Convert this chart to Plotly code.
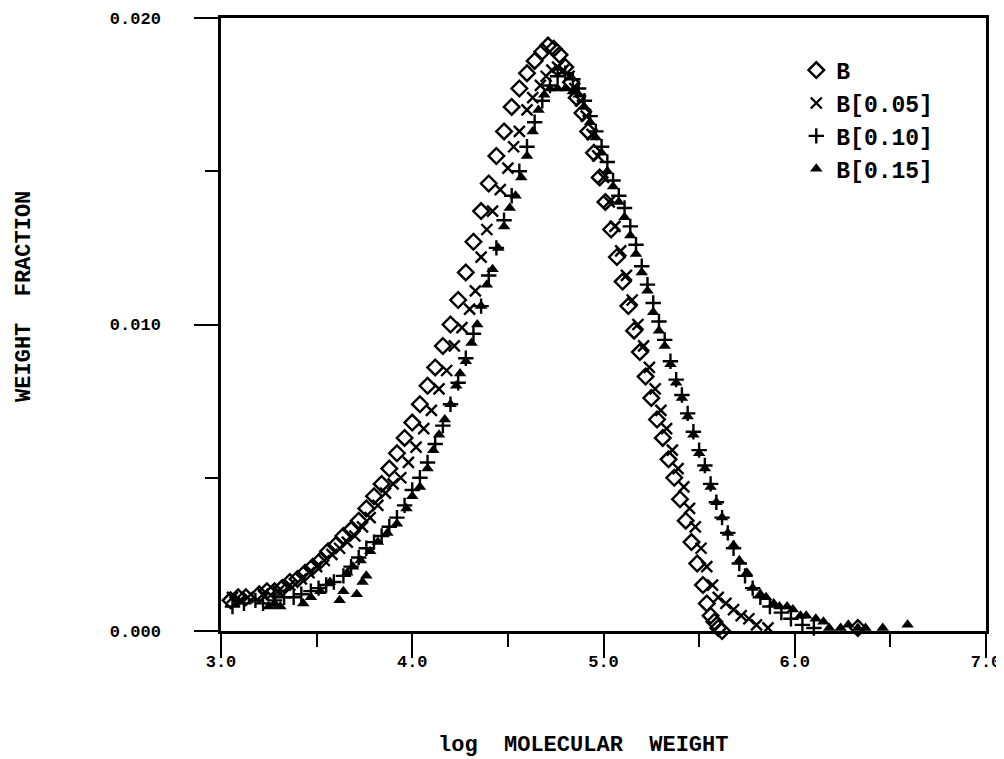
import plotly.graph_objects as go

# ---- data ----
b_x = [3.05, 3.09, 3.13, 3.20, 3.24, 3.28, 3.32, 3.36, 3.40, 3.44, 3.48, 3.52, 3.56, 3.60, 3.64,
       3.68, 3.72, 3.76, 3.80, 3.84, 3.88, 3.92, 3.96, 4.00, 4.04, 4.08, 4.12, 4.16, 4.20, 4.24,
       4.28, 4.32, 4.36, 4.40, 4.44, 4.48, 4.52, 4.56, 4.60, 4.64, 4.68, 4.71, 4.74, 4.77, 4.80,
       4.83, 4.86, 4.89, 4.92, 4.95, 4.98, 5.01, 5.04, 5.07, 5.10, 5.13, 5.16, 5.19, 5.22, 5.25,
       5.28, 5.31, 5.34, 5.37, 5.40, 5.43, 5.46, 5.49, 5.52, 5.54, 5.56, 5.58, 5.60, 5.62, 6.33]
b_y = [0.0010, 0.0011, 0.0011, 0.0012, 0.0013, 0.0013, 0.0014, 0.0016, 0.0017, 0.0019, 0.0021,
       0.0023, 0.0026, 0.0028, 0.0031, 0.0033, 0.0036, 0.0040, 0.0044, 0.0048, 0.0053, 0.0058,
       0.0063, 0.0068, 0.0074, 0.0080, 0.0086, 0.0093, 0.0100, 0.0108, 0.0117, 0.0127, 0.0137,
       0.0146, 0.0155, 0.0163, 0.0171, 0.0177, 0.0182, 0.0186, 0.0189, 0.0191, 0.0190, 0.0188,
       0.0184, 0.0179, 0.0174, 0.0169, 0.0163, 0.0156, 0.0148, 0.0140, 0.0131, 0.0122, 0.0114,
       0.0106, 0.0098, 0.0091, 0.0083, 0.0076, 0.0069, 0.0063, 0.0056, 0.0050, 0.0043, 0.0036,
       0.0029, 0.0022, 0.0015, 0.0009, 0.0005, 0.0003, 0.0001, 0.0000, 0.0001]

b05_x = [3.06, 3.10, 3.14, 3.22, 3.30, 3.36, 3.42, 3.46, 3.50, 3.54, 3.58, 3.62, 3.66, 3.70, 3.74,
         3.78, 3.82, 3.86, 3.90, 3.94, 3.98, 4.02, 4.06, 4.10, 4.14, 4.18, 4.22, 4.26, 4.30, 4.33,
         4.36, 4.39, 4.42, 4.46, 4.50, 4.53, 4.56, 4.60, 4.63, 4.67, 4.70, 4.73, 4.76, 4.79, 4.82,
         4.85, 4.88, 4.91, 4.94, 4.97, 5.00, 5.03, 5.06, 5.09, 5.12, 5.15, 5.18, 5.21, 5.24, 5.27,
         5.30, 5.33, 5.36, 5.39, 5.42, 5.45, 5.48, 5.51, 5.54, 5.57, 5.60, 5.64, 5.68, 5.72, 5.76,
         5.80, 5.86]
b05_y = [0.0011, 0.0010, 0.0011, 0.0012, 0.0013, 0.0015, 0.0017, 0.0019, 0.0021, 0.0023, 0.0025,
         0.0027, 0.0029, 0.0031, 0.0034, 0.0037, 0.0041, 0.0045, 0.0048, 0.0050, 0.0055, 0.0060,
         0.0066, 0.0072, 0.0079, 0.0085, 0.0093, 0.0099, 0.0105, 0.0111, 0.0122, 0.0131, 0.0137,
         0.0144, 0.0151, 0.0158, 0.0163, 0.0170, 0.0174, 0.0178, 0.0181, 0.0183, 0.0184, 0.0183,
         0.0181, 0.0177, 0.0173, 0.0168, 0.0162, 0.0155, 0.0148, 0.0140, 0.0132, 0.0124, 0.0116,
         0.0108, 0.0100, 0.0093, 0.0086, 0.0079, 0.0072, 0.0066, 0.0059, 0.0053, 0.0047, 0.0040,
         0.0034, 0.0027, 0.0021, 0.0015, 0.0011, 0.0009, 0.0007, 0.0005, 0.0004, 0.0002, 0.0001]

b10_x = [3.06, 3.12, 3.18, 3.22, 3.28, 3.33, 3.38, 3.42, 3.47, 3.51, 3.55, 3.59, 3.64, 3.68, 3.72,
         3.76, 3.80, 3.84, 3.88, 3.92, 3.96, 4.00, 4.04, 4.08, 4.12, 4.16, 4.20, 4.24, 4.28, 4.32,
         4.36, 4.40, 4.44, 4.48, 4.52, 4.56, 4.60, 4.64, 4.68, 4.72, 4.76, 4.80, 4.84, 4.87, 4.90,
         4.93, 4.96, 4.99, 5.02, 5.05, 5.08, 5.11, 5.14, 5.17, 5.20, 5.23, 5.26, 5.29, 5.32, 5.35,
         5.38, 5.41, 5.44, 5.47, 5.50, 5.53, 5.56, 5.59, 5.62, 5.65, 5.68, 5.71, 5.74, 5.78, 5.82,
         5.87, 5.93, 5.98, 6.04, 6.10]
b10_y = [0.0008, 0.0009, 0.0010, 0.0009, 0.0010, 0.0011, 0.0011, 0.0012, 0.0013, 0.0014, 0.0015,
         0.0016, 0.0018, 0.0021, 0.0024, 0.0027, 0.0029, 0.0031, 0.0034, 0.0037, 0.0041, 0.0046,
         0.0050, 0.0055, 0.0061, 0.0067, 0.0074, 0.0081, 0.0089, 0.0097, 0.0106, 0.0116, 0.0125,
         0.0134, 0.0142, 0.0150, 0.0158, 0.0166, 0.0173, 0.0178, 0.0181, 0.0182, 0.0180, 0.0177,
         0.0173, 0.0168, 0.0163, 0.0158, 0.0153, 0.0147, 0.0142, 0.0138, 0.0132, 0.0126, 0.0119,
         0.0113, 0.0107, 0.0101, 0.0095, 0.0088, 0.0082, 0.0077, 0.0071, 0.0065, 0.0059, 0.0054,
         0.0048, 0.0042, 0.0037, 0.0032, 0.0027, 0.0022, 0.0018, 0.0014, 0.0011, 0.0008, 0.0006,
         0.0004, 0.0002, 0.0001]

b15_x = [3.25, 3.28, 3.31, 3.43, 3.47, 3.52, 3.57, 3.62, 3.64, 3.66, 3.69, 3.71, 3.73, 3.74, 3.76,
         3.78, 3.82, 3.87, 3.92, 3.97, 4.00, 4.04, 4.08, 4.11, 4.14, 4.17, 4.20, 4.23, 4.25, 4.28,
         4.31, 4.34, 4.36, 4.39, 4.42, 4.45, 4.48, 4.51, 4.54, 4.57, 4.60, 4.63, 4.66, 4.69, 4.72,
         4.76, 4.80, 4.84, 4.87, 4.90, 4.93, 4.96, 4.99, 5.02, 5.05, 5.08, 5.11, 5.14, 5.17, 5.20,
         5.23, 5.26, 5.29, 5.32, 5.35, 5.38, 5.41, 5.44, 5.47, 5.50, 5.53, 5.56, 5.59, 5.62, 5.65,
         5.68, 5.71, 5.75, 5.78, 5.82, 5.85, 5.89, 5.92, 5.96, 5.99, 6.03, 6.06, 6.11, 6.15, 6.18,
         6.24, 6.28, 6.33, 6.37, 6.46, 6.59]
b15_y = [0.0008, 0.0009, 0.0008, 0.0009, 0.0011, 0.0013, 0.0016, 0.0010, 0.0013, 0.0019, 0.0021,
         0.0012, 0.0023, 0.0016, 0.0018, 0.0026, 0.0029, 0.0032, 0.0035, 0.0040, 0.0044, 0.0047,
         0.0053, 0.0059, 0.0064, 0.0069, 0.0074, 0.0080, 0.0084, 0.0088, 0.0094, 0.0100, 0.0106,
         0.0113, 0.0118, 0.0125, 0.0132, 0.0138, 0.0142, 0.0148, 0.0155, 0.0163, 0.0170, 0.0175,
         0.0177, 0.0177, 0.0177, 0.0176, 0.0175, 0.0171, 0.0166, 0.0161, 0.0156, 0.0150, 0.0145,
         0.0140, 0.0135, 0.0129, 0.0123, 0.0117, 0.0111, 0.0104, 0.0098, 0.0093, 0.0087, 0.0081,
         0.0076, 0.0070, 0.0064, 0.0058, 0.0053, 0.0047, 0.0042, 0.0037, 0.0032, 0.0028, 0.0023,
         0.0019, 0.0014, 0.0012, 0.0011, 0.0009, 0.0008, 0.0008, 0.0007, 0.0005, 0.0005, 0.0004,
         0.0003, 0.0001, 0.0001, 0.0002, 0.0001, 0.0001, 0.0001, 0.0002]

series_names = ["B", "B[0.05]", "B[0.10]", "B[0.15]"]
x_tick_vals = [3, 4, 5, 6, 7]
x_tick_text = ["3.0", "4.0", "5.0", "6.0", "7.0"]
y_tick_vals = [0.0, 0.010, 0.020]
y_tick_text = ["0.000", "0.010", "0.020"]
x_title = "log\u00a0 MOLECULAR\u00a0 WEIGHT"
y_title = "WEIGHT\u00a0 FRACTION"

FONT = "Liberation Mono"

fig = go.Figure()
styles = [
    dict(symbol="diamond-open", size=12, line=dict(width=2.4, color="black"), color="black"),
    dict(symbol="x-thin-open", size=11, line=dict(width=2.4, color="black"), color="black"),
    dict(symbol="cross-thin-open", size=11, line=dict(width=2.4, color="black"), color="black"),
    dict(symbol="triangle-up", size=11, line=dict(width=0, color="black"), color="black"),
]
for name, xs, ys, st, g in zip(series_names, [b_x, b05_x, b10_x, b15_x],
                               [b_y, b05_y, b10_y, b15_y], styles, ["g1", "g2", "g3", "g4"]):
    fig.add_trace(go.Scatter(x=xs, y=ys, mode="markers", name=name, marker=st,
                             cliponaxis=False, legendgroup=g))

axis_common = dict(showline=True, linecolor="black", linewidth=2.5, mirror=True,
                   showgrid=False, zeroline=False, ticks="outside", tickcolor="black",
                   tickwidth=2, ticklen=24, automargin=False,
                   tickfont=dict(family=FONT, size=17, color="black", weight="bold"))

fig.update_xaxes(range=[3, 7], tickmode="array", tickvals=x_tick_vals, ticktext=x_tick_text,
                 minor=dict(dtick=0.5, tick0=3, ticks="outside", ticklen=13, tickwidth=2,
                            tickcolor="black", showgrid=False),
                 ticklabelstandoff=-11,
                 **axis_common)
fig.update_yaxes(range=[0, 0.020], tickmode="array", tickvals=y_tick_vals, ticktext=y_tick_text,
                 minor=dict(dtick=0.005, tick0=0, ticks="outside", ticklen=13, tickwidth=2,
                            tickcolor="black", showgrid=False),
                 ticklabelstandoff=30,
                 **axis_common)

title_font = dict(family=FONT, size=22, color="black", weight="bold")
fig.add_annotation(text=x_title, xref="paper", yref="paper", x=0.473, y=0,
                   xanchor="center", yanchor="middle", yshift=-114, showarrow=False,
                   font=title_font)
fig.add_annotation(text=y_title, xref="paper", yref="paper", x=0, y=0.545,
                   xanchor="center", yanchor="middle", xshift=-196, textangle=-90,
                   showarrow=False, font=title_font)

# the page body has an 8px default margin, so the figure is placed 8px right and down
fig.update_layout(
    width=1004, height=759,
    margin=dict(l=213, r=26, t=10, b=136),
    paper_bgcolor="white", plot_bgcolor="white",
    legend=dict(x=0.752, y=0.950, xanchor="left", yanchor="top",
                font=dict(family=FONT, size=23, color="black", weight="bold"),
                bgcolor="rgba(0,0,0,0)", tracegroupgap=0, itemwidth=30),
    showlegend=True,
)

fig.write_html("out.html")
